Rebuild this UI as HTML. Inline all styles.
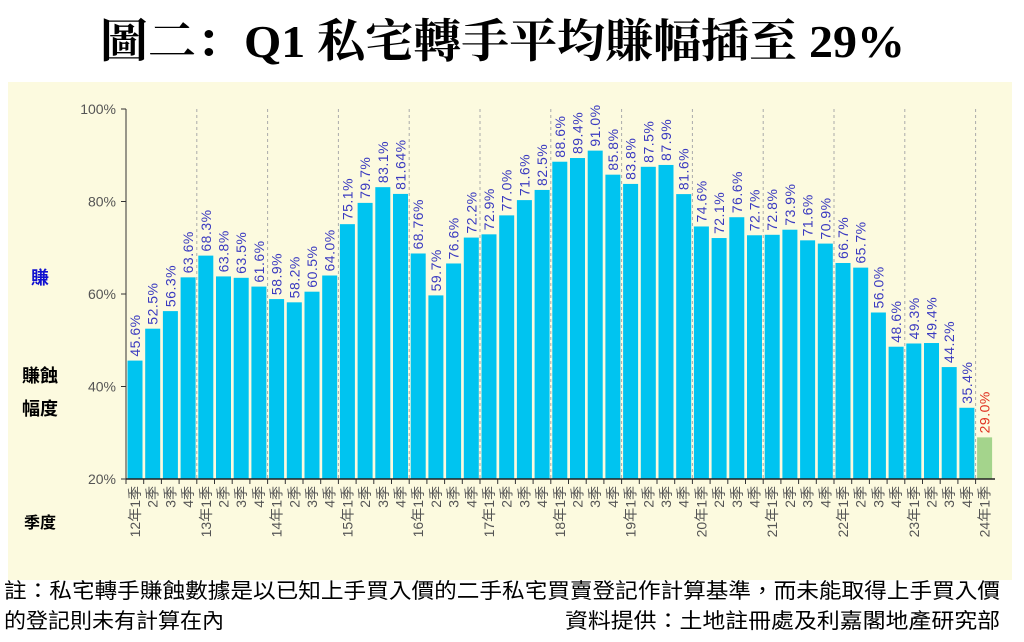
<!DOCTYPE html>
<html><head><meta charset="utf-8"><style>
body{margin:0;width:1024px;height:637px;background:#fff;overflow:hidden;font-family:"Liberation Sans","Noto Sans CJK TC",sans-serif}
</style></head><body>
<svg id="s" width="1024" height="637" xmlns="http://www.w3.org/2000/svg">
<rect x="8" y="82" width="1004" height="498" fill="#fcfadf"/>
<text x="100" y="57" textLength="805" lengthAdjust="spacingAndGlyphs" font-family="'Liberation Serif','Noto Serif CJK SC',serif" font-weight="bold" font-size="46" fill="#000">圖二：Q1 私宅轉手平均賺幅插至 29%</text>
<g font-family="'Liberation Sans','Noto Sans CJK TC',sans-serif" font-weight="bold" font-size="18">
<text x="40" y="284" text-anchor="middle" fill="#1010d0">賺</text>
<text x="40" y="382" text-anchor="middle" fill="#000">賺蝕</text>
<text x="40" y="415" text-anchor="middle" fill="#000">幅度</text>
<text x="40" y="528" text-anchor="middle" fill="#000" font-size="16">季度</text>
</g>
<g id="g"></g>
<text x="4" y="598" textLength="996" lengthAdjust="spacingAndGlyphs" font-size="21" fill="#000">註：私宅轉手賺蝕數據是以已知上手買入價的二手私宅買賣登記作計算基準，而未能取得上手買入價</text>
<text x="4" y="628" textLength="220" lengthAdjust="spacingAndGlyphs" font-size="21" fill="#000">的登記則未有計算在內</text>
<text x="565" y="628" textLength="435" lengthAdjust="spacingAndGlyphs" font-size="21" fill="#000">資料提供：土地註冊處及利嘉閣地產研究部</text>
</svg>
<script>
var lab=["45.6","52.5","56.3","63.6","68.3","63.8","63.5","61.6","58.9","58.2","60.5","64.0","75.1","79.7","83.1","81.64","68.76","59.7","76.6","72.2","72.9","77.0","71.6","82.5","88.6","89.4","91.0","85.8","83.8","87.5","87.9","81.6","74.6","72.1","76.6","72.7","72.8","73.9","71.6","70.9","66.7","65.7","56.0","48.6","49.3","49.4","44.2","35.4","29.0"];
var val=lab.map(parseFloat);val[18]=66.6;val[22]=80.3;
var x0=126,sl=17.7,yb=479,k=4.625,h='';
function Y(v){return yb-(v-20)*k}
for(var v=20;v<=100;v+=20){var y=Y(v);h+='<line x1="121" x2="126" y1="'+y+'" y2="'+y+'" stroke="#333"/><text x="116" y="'+(y+5)+'" text-anchor="end" font-size="14" fill="#555">'+v+'%</text>';}
for(var i=4;i<49;i+=4){var x=x0+i*sl;h+='<line x1="'+x+'" x2="'+x+'" y1="109" y2="479" stroke="#aaa" stroke-dasharray="3,3"/>';}
for(var i=0;i<49;i++){var x=x0+i*sl+1.5,y=Y(val[i]),last=i==48;
h+='<rect x="'+x+'" y="'+y+'" width="15" height="'+(yb-y)+'" fill="'+(last?'#a4d48c':'#00c4f0')+'"/>';
var cx=x+7.5+5;h+='<text transform="translate('+cx+','+(y-4)+') rotate(-90)" font-size="14" letter-spacing="0.5" fill="'+(last?'#e03020':'#3a3ac0')+'">'+lab[i]+'%</text>';
var q=i%4+1,t=(q==1?(12+i/4)+'年':'')+q+'季';
var tx=x0+i*sl+9+5;h+='<text transform="translate('+tx+',486) rotate(-90)" text-anchor="end" font-size="14" fill="#555">'+t+'</text>';
h+='<line x1="'+(x0+i*sl)+'" x2="'+(x0+i*sl)+'" y1="479" y2="484" stroke="#333"/>';}
h+='<line x1="126" x2="126" y1="109" y2="479" stroke="#333"/><line x1="126" x2="995" y1="479" y2="479" stroke="#222" stroke-width="1.5"/>';
document.getElementById('g').innerHTML=h;
</script>
</body></html>
